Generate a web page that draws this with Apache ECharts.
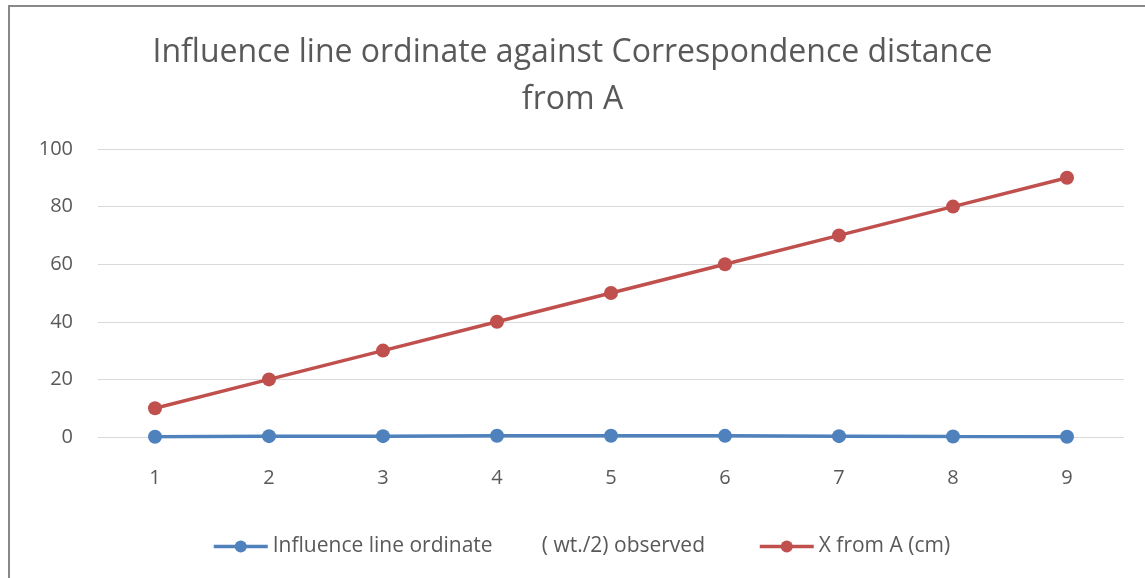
<!DOCTYPE html>
<html>
<head>
<meta charset="utf-8">
<script src="https://cdn.jsdelivr.net/npm/echarts@6/dist/echarts.min.js"></script>
<style>
  html, body { margin: 0; padding: 0; background: #fff; }
  #chart { width: 1145px; height: 578px; }
</style>
</head>
<body>
<div id="chart"></div>
<script>
// chart data
const categories = ['1', '2', '3', '4', '5', '6', '7', '8', '9']
const influenceOrdinate = [0.1, 0.3, 0.3, 0.45, 0.45, 0.4, 0.3, 0.15, 0.1]
const xFromA = [10, 20, 30, 40, 50, 60, 70, 80, 90]
const yTicks = { min: 0, max: 100, interval: 20 }

const seriesNames = ['Influence line ordinate         ( wt./2) observed', 'X from A (cm)']
const textColor = '#595959'
const fontFamily = 'Open Sans, Liberation Sans, sans-serif'

const chart = echarts.init(document.getElementById('chart'))

chart.setOption({
  backgroundColor: '#fff',
  animation: false,
  textStyle: { fontFamily },
  title: {
    text: 'Influence line ordinate against Correspondence distance\nfrom A',
    left: 'center',
    top: 24,
    textStyle: { color: textColor, fontSize: 32, fontWeight: 'normal', lineHeight: 47, fontFamily },
  },
  grid: { left: 98, right: 21, top: 149, bottom: 141 },
  legend: {
    bottom: 16,
    left: 207,
    itemWidth: 54,
    itemHeight: 15,
    itemGap: 53,
    lineStyle: { width: 3.5 },
    textStyle: { color: textColor, fontSize: 21, fontFamily },
    data: seriesNames,
  },
  xAxis: {
    type: 'category',
    data: categories,
    boundaryGap: true,
    axisLine: { show: false },
    axisTick: { show: false },
    axisLabel: { color: textColor, fontSize: 20, margin: 31 },
  },
  yAxis: {
    type: 'value',
    min: yTicks.min,
    max: yTicks.max,
    interval: yTicks.interval,
    axisLine: { show: false },
    axisTick: { show: false },
    axisLabel: { color: textColor, fontSize: 20, margin: 25 },
    splitLine: { lineStyle: { color: '#d9d9d9', width: 1 } },
  },
  series: [
    {
      name: seriesNames[0],
      type: 'line',
      data: influenceOrdinate,
      symbol: 'circle',
      symbolSize: 14,
      lineStyle: { color: '#4f81bd', width: 3.5 },
      itemStyle: { color: '#4f81bd' },
    },
    {
      name: seriesNames[1],
      type: 'line',
      data: xFromA,
      symbol: 'circle',
      symbolSize: 14,
      lineStyle: { color: '#c0504d', width: 3.5 },
      itemStyle: { color: '#c0504d' },
    },
  ],
  graphic: [
    {
      type: 'polyline',
      silent: true,
      shape: { points: [[9, 578], [9, 6], [1145, 6]] },
      style: { stroke: '#898989', lineWidth: 2, fill: null },
    },
  ],
})
</script>
</body>
</html>
